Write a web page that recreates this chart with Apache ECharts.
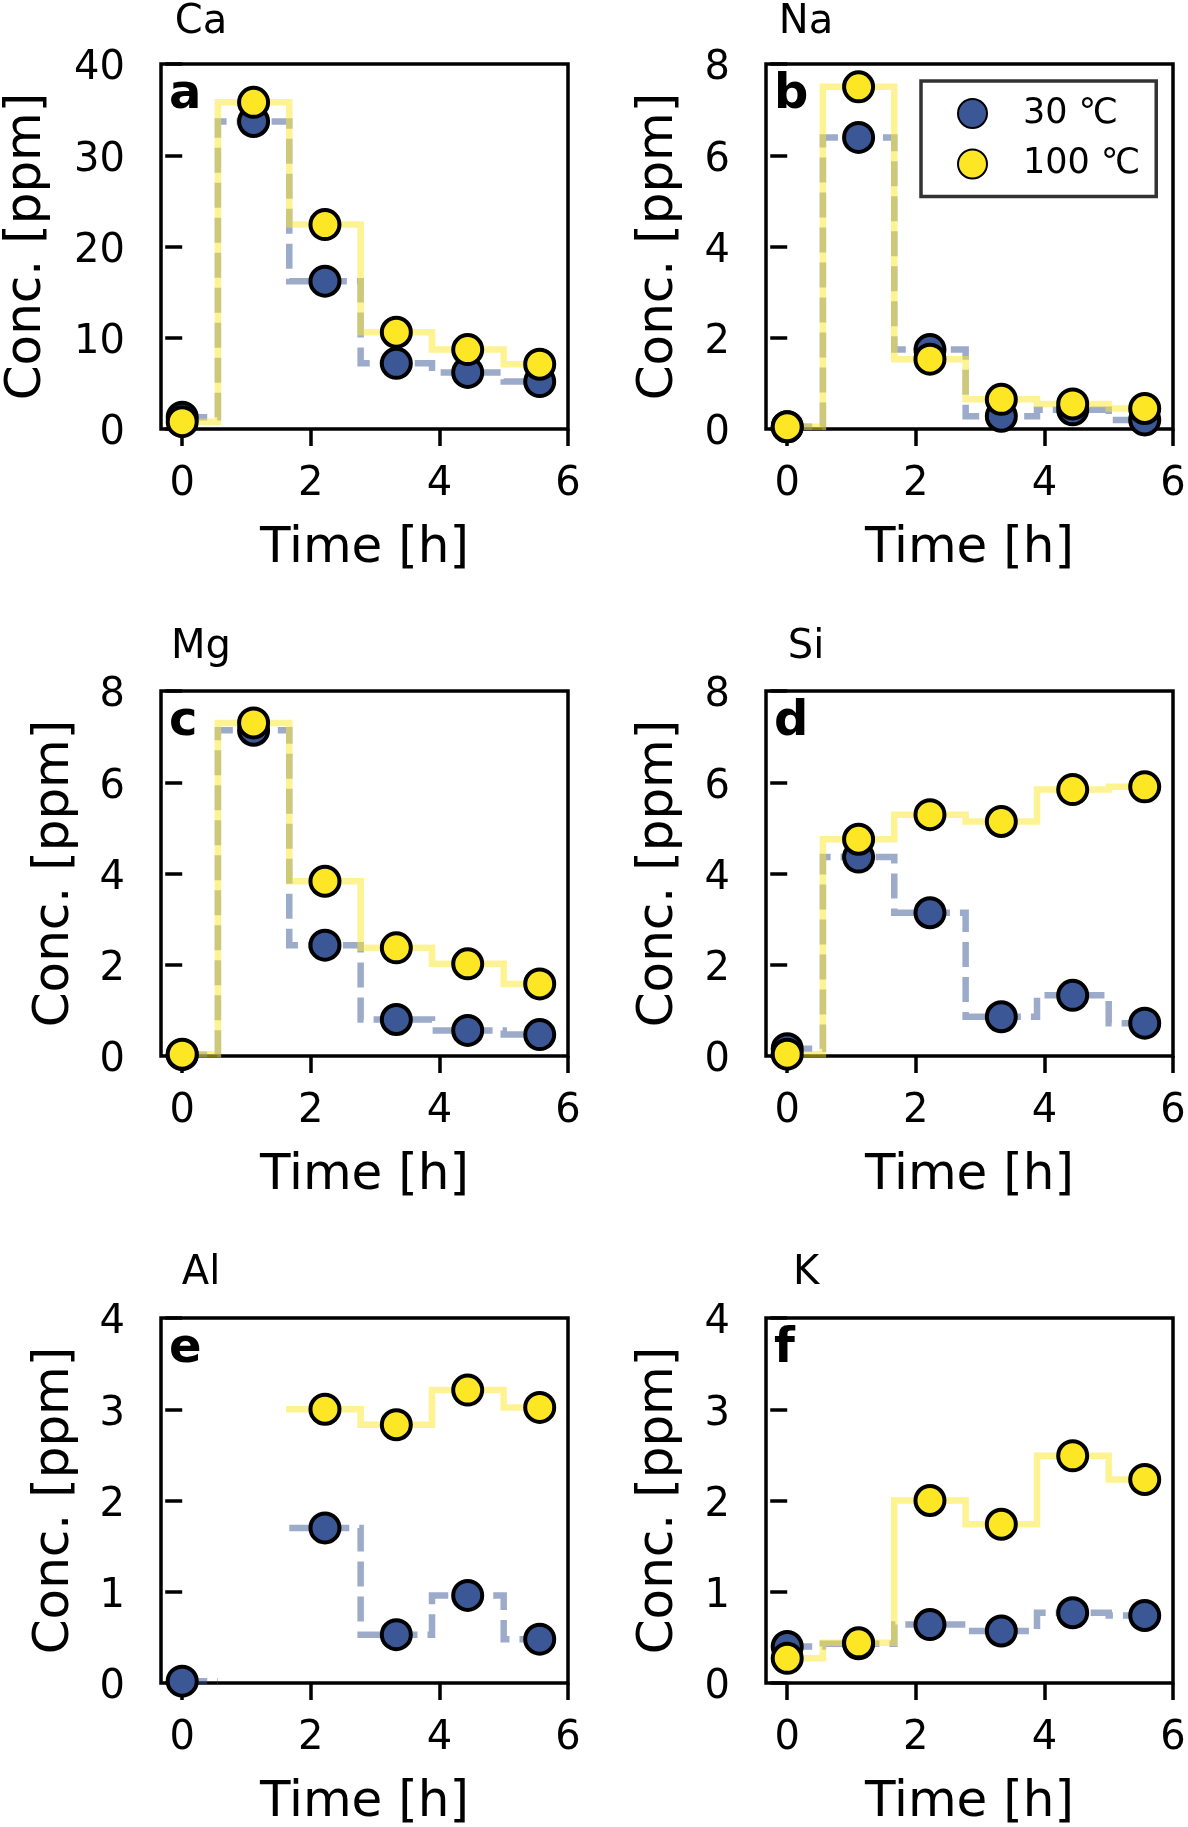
<!DOCTYPE html>
<html>
<head>
<meta charset="utf-8">
<script src="https://cdn.jsdelivr.net/npm/echarts@6/dist/echarts.min.js"></script>
<style>
html,body{margin:0;padding:0;background:#fff;}
#c{width:1188px;height:1827px;}
</style>
</head>
<body>
<div id="c"></div>
<script>
// ---------- data ----------
const times = [0, 1.11, 2.22, 3.33, 4.44, 5.56];
const elements = ['Ca', 'Na', 'Mg', 'Si', 'Al', 'K'];
const panelLetters = ['a', 'b', 'c', 'd', 'e', 'f'];
const yMax = [40, 8, 8, 8, 4, 4];
const yStep = [10, 2, 2, 2, 1, 1];
const xTicks = [0, 2, 4, 6];
const seriesNames = ['30 ℃', '100 ℃'];

const ca30  = [1.3, 33.7, 16.2, 7.2, 6.2, 5.2];
const ca100 = [0.8, 35.8, 22.4, 10.6, 8.7, 7.1];
const na30  = [0.05, 6.39, 1.74, 0.28, 0.42, 0.2];
const na100 = [0.05, 7.5, 1.53, 0.65, 0.55, 0.45];
const mg30  = [0.03, 7.14, 2.43, 0.8, 0.56, 0.47];
const mg100 = [0.04, 7.3, 3.83, 2.37, 2.02, 1.58];
const si30  = [0.16, 4.36, 3.14, 0.86, 1.33, 0.72];
const si100 = [0.04, 4.75, 5.29, 5.14, 5.84, 5.9];
const al30  = [0.02, null, 1.7, 0.53, 0.96, 0.48];
const al100 = [null, null, 3.0, 2.83, 3.21, 3.02];
const k30   = [0.4, 0.43, 0.64, 0.57, 0.77, 0.74];
const k100  = [0.27, 0.44, 2.0, 1.74, 2.49, 2.23];

const lowT = [ca30, na30, mg30, si30, al30, k30];
const highT = [ca100, na100, mg100, si100, al100, k100];

// ---------- style / layout ----------
const FONT = "'DejaVu Sans', sans-serif";
const BLUE = '#3b5796';
const YELLOW = '#fde725';
const colLeft = [161, 766];
const rowTop = [64, 691, 1318];
const GW = 407, GH = 365;
const titleY = [23, 648, 1274];
const XMIN = -0.33, XMAX = 6;

// matplotlib-like 'steps-mid' path built from the data values
function stepMid(xs, ys) {
  const out = [];
  const n = xs.length;
  for (let i = 0; i < n; i++) {
    if (ys[i] == null) { out.push([xs[i], null]); continue; }
    const xa = i === 0 ? xs[0] : (xs[i - 1] + xs[i]) / 2;
    const xb = i === n - 1 ? xs[n - 1] : (xs[i] + xs[i + 1]) / 2;
    out.push([xa, ys[i]], [xb, ys[i]]);
  }
  return out;
}
function pts(xs, ys) {
  const out = [];
  for (let i = 0; i < xs.length; i++) if (ys[i] != null) out.push([xs[i], ys[i]]);
  return out;
}

const grids = [], xAxes = [], yAxes = [], series = [], graphics = [];
for (let i = 0; i < 6; i++) {
  const col = i % 2, row = Math.floor(i / 2);
  const left = colLeft[col], top = rowTop[row];
  grids.push({
    left: left, top: top, width: GW, height: GH,
    show: true, borderColor: '#000', borderWidth: 3.5, backgroundColor: 'transparent',
    containLabel: false, outerBoundsMode: 'none'
  });
  xAxes.push({
    gridIndex: i, type: 'value', min: XMIN, max: XMAX,
    name: 'Time [h]', nameLocation: 'middle', nameGap: 95, nameMoveOverlap: false,
    nameTextStyle: { fontSize: 50, fontFamily: FONT, color: '#000' },
    axisLine: { show: false },
    axisTick: { show: true, length: 17, inside: false, customValues: xTicks,
      lineStyle: { color: '#000', width: 3.5 } },
    axisLabel: { show: true, customValues: xTicks, margin: 36, fontSize: 40,
      fontFamily: FONT, color: '#000' },
    splitLine: { show: false }
  });
  const twoDigit = yMax[i] >= 10;
  yAxes.push({
    gridIndex: i, type: 'value', min: 0, max: yMax[i], interval: yStep[i],
    name: 'Conc. [ppm]', nameLocation: 'middle', nameMoveOverlap: false,
    nameGap: twoDigit ? 109 : (col === 0 ? 81 : 82),
    nameTextStyle: { fontSize: 50, fontFamily: FONT, color: '#000' },
    axisLine: { show: false },
    axisTick: { show: true, length: 17, inside: false,
      lineStyle: { color: '#000', width: 3.5 } },
    axisLabel: { show: true, margin: 36, fontSize: 40, fontFamily: FONT, color: '#000',
      verticalAlign: 'top', lineHeight: 10 },
    splitLine: { show: false }
  });
  series.push({
    type: 'line', xAxisIndex: i, yAxisIndex: i, data: stepMid(times, lowT[i]),
    symbol: 'none', showSymbol: false, connectNulls: false, silent: true, z: 2,
    lineStyle: { color: BLUE, opacity: 0.5, width: 6.5, type: [25, 10], cap: 'butt', join: 'miter' }
  });
  series.push({
    type: 'line', xAxisIndex: i, yAxisIndex: i, data: stepMid(times, highT[i]),
    symbol: 'none', showSymbol: false, connectNulls: false, silent: true, z: 2,
    lineStyle: { color: YELLOW, opacity: 0.5, width: 6.5, type: 'solid', cap: 'square', join: 'miter' }
  });
  series.push({
    type: 'scatter', name: seriesNames[0], xAxisIndex: i, yAxisIndex: i,
    data: pts(times, lowT[i]), symbol: 'circle', symbolSize: 29, z: 3,
    itemStyle: { color: BLUE, borderColor: '#000', borderWidth: 4, opacity: 1 }
  });
  series.push({
    type: 'scatter', name: seriesNames[1], xAxisIndex: i, yAxisIndex: i,
    data: pts(times, highT[i]), symbol: 'circle', symbolSize: 29, z: 3,
    itemStyle: { color: YELLOW, borderColor: '#000', borderWidth: 4, opacity: 1 }
  });
  graphics.push({
    type: 'text', x: left + 40, y: titleY[row], z: 10,
    style: { text: elements[i], fill: '#000', font: '40px ' + FONT,
      align: 'center', verticalAlign: 'middle', textAlign: 'center', textVerticalAlign: 'middle' }
  });
  graphics.push({
    type: 'text', x: left + 8, y: top + 32, z: 10,
    style: { text: panelLetters[i], fill: '#000', font: 'bold 48px ' + FONT,
      align: 'left', verticalAlign: 'middle', textAlign: 'left', textVerticalAlign: 'middle' }
  });
}

const chart = echarts.init(document.getElementById('c'), null, { renderer: 'canvas' });
chart.setOption({
  animation: false,
  backgroundColor: '#fff',
  grid: grids,
  xAxis: xAxes,
  yAxis: yAxes,
  series: series,
  legend: {
    left: 921, top: 81, orient: 'vertical', data: seriesNames,
    itemWidth: 29, itemHeight: 29, itemGap: 15.5,
    padding: [15, 16, 15, 36],
    borderColor: '#333', borderWidth: 3.5, backgroundColor: '#fff',
    selectedMode: false, icon: 'circle',
    textStyle: { fontSize: 35, fontFamily: FONT, color: '#000', padding: [4, 0, 0, 31] }
  },
  graphic: graphics
});
</script>
</body>
</html>
